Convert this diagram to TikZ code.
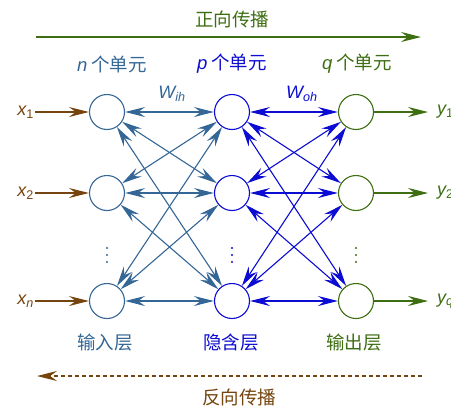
\documentclass[tikz,border=0pt]{standalone}
\usepackage{fontspec}
\setmainfont{Liberation Sans}
\newfontfamily\cjk{Noto Sans CJK SC}
\usetikzlibrary{arrows.meta}
\definecolor{inblue}{RGB}{52,102,150}
\definecolor{hidblue}{RGB}{12,12,210}
\definecolor{outgreen}{RGB}{62,110,18}
\definecolor{brn}{RGB}{118,68,14}
\begin{document}
\begin{tikzpicture}[x=1pt,y=-1pt,
  tip/.tip={Stealth[length=20pt,width=10pt,inset=7pt]},
  neuron/.style={circle,draw,line width=1.1pt,minimum size=35pt,inner sep=0pt},
  txt/.style={font=\fontsize{18}{20}\selectfont},
  cjktxt/.style={font=\fontsize{18.5}{20}\selectfont\cjk},
  link/.style={line width=1.1pt,{tip}-{tip}},
  oneway/.style={line width=1.1pt,-{tip}},
  dot/.style={circle,inner sep=0pt,minimum size=2.4pt}]
\useasboundingbox (0,0) rectangle (451,408);

% neurons
\foreach \n/\y in {1/112,2/193,3/301}{
  \node[neuron,draw=inblue] (i\n) at (107,\y) {};
  \node[neuron,draw=hidblue] (h\n) at (232,\y) {};
  \node[neuron,draw=outgreen] (o\n) at (356,\y) {};
}
\foreach \y in {248,255,262}{
  \fill[inblue] (107,\y) circle (1.2pt);
  \fill[hidblue] (232,\y) circle (1.2pt);
  \fill[outgreen] (356,\y) circle (1.2pt);
}

% connections
\foreach \a in {1,2,3}{
  \foreach \b in {1,2,3}{
    \draw[link,inblue] (i\a) -- (h\b);
    \draw[link,hidblue] (h\a) -- (o\b);
  }
}

% inputs
\node[txt,text=brn,anchor=east,inner sep=1pt] (x1) at (35,112) {\itshape x\textsubscript{\upshape 1}};
\node[txt,text=brn,anchor=east,inner sep=1pt] (x2) at (35,193) {\itshape x\textsubscript{\upshape 2}};
\node[txt,text=brn,anchor=east,inner sep=1pt] (x3) at (35,301) {\itshape x\textsubscript{n}};
\foreach \n in {1,2,3}{\draw[oneway,brn] (x\n.east) -- (i\n);}

% outputs
\node[txt,text=outgreen,anchor=west,inner sep=0pt] (y1) at (428,112) {\hspace{9pt}\itshape y\textsubscript{\upshape 1}};
\node[txt,text=outgreen,anchor=west,inner sep=0pt] (y2) at (428,193) {\hspace{9pt}\itshape y\textsubscript{\upshape 2}};
\node[txt,text=outgreen,anchor=west,inner sep=0pt] (y3) at (428,301) {\hspace{9pt}\itshape y\textsubscript{q}};
\foreach \n in {1,2,3}{\draw[oneway,outgreen] (o\n) -- (y\n.west);}

% weights
\node[txt,text=inblue] (wih) at (172,94) {\itshape W\textsubscript{ih}};
\node[txt,text=hidblue] (woh) at (302,94) {\itshape W\textsubscript{oh}};

% layer counts
\node[cjktxt,text=inblue] (cn) at (112,64) {{\normalfont\itshape n}\ 个单元};
\node[cjktxt,text=hidblue] (cp) at (232,64) {{\normalfont\itshape p}\ 个单元};
\node[cjktxt,text=outgreen] (cq) at (357,64) {{\normalfont\itshape q}\ 个单元};

% layer names
\node[cjktxt,text=inblue] (ln1) at (105,343) {输入层};
\node[cjktxt,text=hidblue] (ln2) at (231,343) {隐含层};
\node[cjktxt,text=outgreen] (ln3) at (354,343) {输出层};

% forward
\node[cjktxt,text=outgreen] (fw) at (232,19) {正向传播};
\coordinate (fa) at (36,37);
\coordinate (fb) at (421,37);
\draw[oneway,outgreen] (fa) -- (fb);

% backward
\coordinate (ba) at (422,376);
\coordinate (bb) at (37,376);
\draw[oneway,brn,dashed,dash pattern=on 4pt off 3pt] (ba) -- (bb);
\node[cjktxt,text=brn] (bw) at (239,397) {反向传播};
\end{tikzpicture}
\end{document}
